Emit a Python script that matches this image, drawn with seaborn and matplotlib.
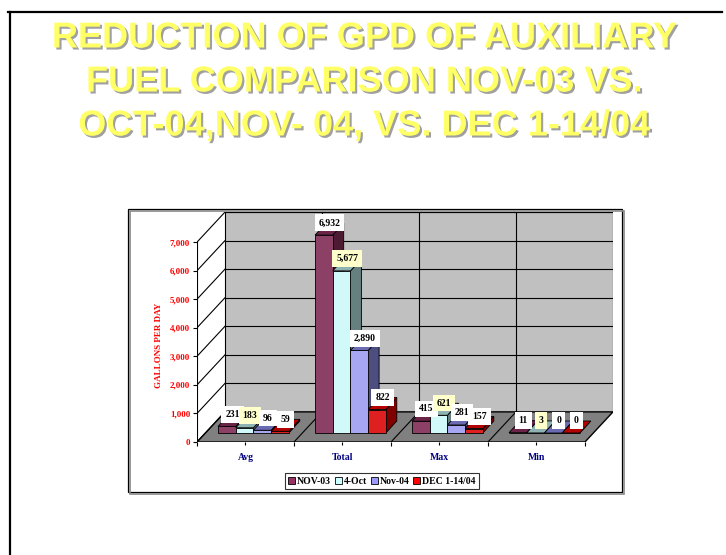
import pandas as pd
import numpy as np
import matplotlib
matplotlib.use("Agg")
import matplotlib.pyplot as plt
import matplotlib.patheffects as pe
from matplotlib.patches import Polygon, Rectangle, Patch
from matplotlib.lines import Line2D
import seaborn as sns

# 데이터
categories = ["Avg", "Total", "Max", "Min"]
series = ["NOV-03", "4-Oct", "Nov-04", "DEC 1-14/04"]
nov03 = [231, 6932, 415, 11]
oct04 = [183, 5677, 621, 3]
nov04 = [96, 2890, 281, 0]
dec04 = [59, 822, 157, 0]
yticks = [0, 1000, 2000, 3000, 4000, 5000, 6000, 7000]

colors = ["#993366", "#CCFFFF", "#9999FF", "#FF0000"]
label_bg = ["white", "#FFFFCC", "white", "white"]
title_lines = ["REDUCTION OF GPD OF AUXILIARY",
               "FUEL COMPARISON NOV-03 VS.",
               "OCT-04,NOV- 04, VS. DEC 1-14/04"]

df = pd.DataFrame({
    "cat": categories * 4,
    "series": np.repeat(series, 4),
    "value": nov03 + oct04 + nov04 + dec04,
})

W, H = 726, 555
fig = plt.figure(figsize=(W / 100, H / 100), dpi=100)
fig.patch.set_facecolor("white")

# 3D 흉내용 오프셋 (데이터 단위)
dx, dy = 0.289, 1055      # 벽 깊이
fx, fy = 0.082, 315       # 막대 앞면 위치
bdx, bdy = 0.113, 420     # 막대 깊이
ytop = 7000 + dy

ax = fig.add_axes([197 / W, (H - 442) / H, 416 / W, 230 / H])
sns.barplot(data=df, x="cat", y="value", hue="series", palette=colors,
            order=categories, hue_order=series, width=0.73,
            edgecolor="black", linewidth=0.6, legend=False, ax=ax, zorder=3)
bars = list(ax.patches)
ax.set_xlim(-0.5, 3.5 + dx)
ax.set_ylim(0, ytop)
ax.patch.set_visible(False)

# 벽, 바닥
wall = Rectangle((-0.5 + dx, dy), 4, 7000, facecolor="#C0C0C0",
                 edgecolor="black", linewidth=0.8, zorder=0.5)
ax.add_patch(wall)
floor = Polygon([(-0.5, 0), (3.5, 0), (3.5 + dx, dy), (-0.5 + dx, dy)],
                closed=True, facecolor="#808080", edgecolor="black",
                linewidth=1.0, zorder=0.6)
ax.add_patch(floor)
for v in yticks[1:]:
    ax.plot([-0.5 + dx, 3.5 + dx], [v + dy, v + dy], color="black", lw=0.8, zorder=0.7)
for v in yticks:
    ax.plot([-0.5, -0.5 + dx], [v, v + dy], color="black", lw=0.8, zorder=0.7)
for b in [0.5, 1.5, 2.5]:
    ax.plot([b + dx, b + dx], [dy, 7000 + dy], color="black", lw=0.8, zorder=0.7)
    ax.plot([b, b + dx], [0, dy], color="black", lw=0.8, zorder=0.7)
ax.plot([-0.5, -0.5], [0, 7000], color="black", lw=0.8, zorder=0.7)

# 막대 3D 면
def shade(c, f):
    r, g, b = matplotlib.colors.to_rgb(c)
    return (r * f, g * f, b * f)

order = sorted(range(len(bars)), key=lambda i: bars[i].get_x())
for rank, i in enumerate(order):
    p = bars[i]
    s = i // 4
    x0 = p.get_x() + fx
    w = p.get_width()
    h = p.get_height()
    p.set_x(x0)
    p.set_y(fy)
    z = 2 + rank * 0.01
    p.set_zorder(z + 0.005)
    side = Polygon([(x0 + w, fy), (x0 + w + bdx, fy + bdy),
                    (x0 + w + bdx, fy + h + bdy), (x0 + w, fy + h)],
                   closed=True, facecolor=shade(colors[s], 0.5),
                   edgecolor="black", linewidth=0.6, zorder=z)
    top = Polygon([(x0, fy + h), (x0 + bdx, fy + h + bdy),
                   (x0 + w + bdx, fy + h + bdy), (x0 + w, fy + h)],
                  closed=True, facecolor=shade(colors[s], 0.7),
                  edgecolor="black", linewidth=0.6, zorder=z)
    ax.add_patch(side)
    ax.add_patch(top)

# 값 라벨
for rank, i in enumerate(order):
    p = bars[i]
    s = i // 4
    h = p.get_height()
    xc = p.get_x() + p.get_width() / 2 + bdx / 2
    ax.text(xc, fy + h + bdy / 2 + 60, f"{int(round(h)):,}",
            ha="center", va="bottom", fontsize=7, fontweight="bold",
            family="Liberation Serif", color="black", zorder=5,
            bbox=dict(boxstyle="square,pad=0.4", facecolor=label_bg[s],
                      edgecolor="none"))

# 축
for sp in ax.spines.values():
    sp.set_visible(False)
ax.set_yticks(yticks)
ax.set_yticklabels([f"{v:,}" for v in yticks], color="#FF0000",
                   fontsize=6.5, fontweight="bold", family="Liberation Serif")
ax.tick_params(axis="y", length=3, width=0.8, pad=2)
ax.set_xticks(range(4))
ax.set_xticklabels(categories, color="#000080", fontsize=7,
                   fontweight="bold", family="Liberation Serif")
ax.set_xticks([-0.5, 0.5, 1.5, 2.5, 3.5], minor=True)
ax.tick_params(axis="x", which="major", length=2, width=0.8, pad=6)
ax.tick_params(axis="x", which="minor", length=3, width=0.8)
ax.set_xlabel("")
ax.set_ylabel("")
fig.text(159 / W, 1 - 345 / H, "GALLONS PER DAY", rotation=90, ha="center",
         va="center", color="#FF0000", fontsize=6.5, fontweight="bold",
         family="Liberation Serif")

# 범례
handles = [Patch(facecolor=c, edgecolor="black", linewidth=0.6) for c in colors]
leg = fig.legend(handles, series, loc="center", bbox_to_anchor=(382 / W, 1 - 481 / H),
                 ncol=4, frameon=True, fancybox=False, handlelength=0.7,
                 handleheight=0.7, handletextpad=0.2, columnspacing=0.4,
                 borderpad=0.35, prop=dict(family="Liberation Serif",
                                           weight="bold", size=7))
leg.get_frame().set_edgecolor("black")
leg.get_frame().set_linewidth(0.8)

# 차트 영역 테두리, 슬라이드 테두리
fig.add_artist(Rectangle((130 / W, 1 - 494 / H), 494 / W, 283 / H,
                         transform=fig.transFigure, facecolor="none",
                         edgecolor="#888888", linewidth=1.2, zorder=0))
fig.add_artist(Rectangle((128 / W, 1 - 492 / H), 494 / W, 283 / H,
                         transform=fig.transFigure, facecolor="white",
                         edgecolor="black", linewidth=0.9, zorder=-1))
fig.add_artist(Line2D([8 / W, 722 / W], [1 - 12 / H, 1 - 12 / H],
                      transform=fig.transFigure, color="black", lw=1.6))
fig.add_artist(Line2D([9.5 / W, 9.5 / W], [1 - 12 / H, 0],
                      transform=fig.transFigure, color="black", lw=1.6))

# 제목
for k, line in enumerate(title_lines):
    fig.text(364 / W, 1 - (38 + 44 * k) / H, line, ha="center", va="center",
             fontsize=26, fontweight="bold", family="Liberation Sans",
             color="#FFFF66",
             path_effects=[pe.SimplePatchShadow(offset=(1.5, -1.5),
                                                shadow_rgbFace="#A0A0A0",
                                                alpha=1.0),
                           pe.Normal()])

fig.savefig("out.png", dpi=100)
